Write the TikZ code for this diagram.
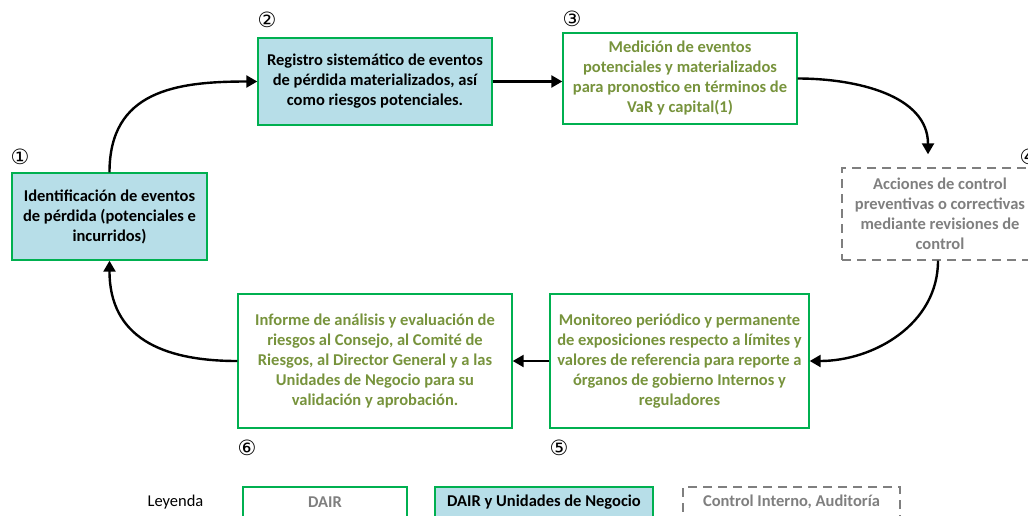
\documentclass[tikz,border=0pt]{standalone}
\usepackage{fontspec}
\setmainfont{Carlito}
\newfontfamily\circfont{DejaVu Sans}
\usetikzlibrary{arrows,arrows.meta}
\definecolor{verde}{HTML}{00B050}
\definecolor{azul}{HTML}{B7DEE8}
\definecolor{oliva}{HTML}{77933C}
\definecolor{gris}{HTML}{7F7F7F}

\begin{document}
\begin{tikzpicture}[x=1pt,y=-1pt,
  caja/.style={draw=verde,line width=1.4pt,align=center,inner sep=0pt,
    font=\bfseries\fontsize{16.5}{20}\selectfont},
  dair/.style={caja,text=oliva},
  unid/.style={caja,fill=azul},
  ctrl/.style={caja,draw=gris,dash pattern=on 9pt off 6pt,text=gris},
  num/.style={font=\circfont\fontsize{21}{21}\selectfont},
  flecha/.style={-{Triangle[length=11pt,width=12pt]},line width=2.4pt}]
\useasboundingbox (0,0) rectangle (1028,515);
% pasos del proceso
\node[unid,minimum width=195pt,minimum height=87pt](Id)at(109.5,216.5)
  {Identificación de eventos\\de pérdida (potenciales e\\incurridos)};
\node[unid,minimum width=234pt,minimum height=87pt](Reg)at(375,81.5)
  {Registro sistemático de eventos\\de pérdida materializados, así\\como riesgos potenciales.};
\node[dair,minimum width=234pt,minimum height=91pt](Med)at(680,78.5)
  {Medición de eventos\\potenciales y materializados\\para pronostico en términos de\\VaR y capital(1)};
\node[ctrl,minimum width=196pt,minimum height=92pt](Acc)at(940,214)
  {Acciones de control\\preventivas o correctivas\\mediante revisiones de\\control};
\node[dair,minimum width=259pt,minimum height=134pt](Mon)at(679.5,361)
  {Monitoreo periódico y permanente\\de exposiciones respecto a límites y\\valores de referencia para reporte a\\órganos de gobierno Internos y\\reguladores};
\node[dair,minimum width=274pt,minimum height=134pt](Inf)at(375,361)
  {Informe de análisis y evaluación de\\riesgos al Consejo, al Comité de\\Riesgos, al Director General y a las\\Unidades de Negocio para su\\validación y aprobación.};
% numeros
\node[num](n1)at(20,157){①};
\node[num](n2)at(267,20){②};
\node[num](n3)at(572,19){③};
\node[num](n4)at(1029,157){④};
\node[num](n5)at(559,448){⑤};
\node[num](n6)at(247,448){⑥};
% flechas
\draw[flecha](Id.north)to[out=90,in=180,looseness=1.2](Reg.west);
\draw[flecha](Reg.east)--(Reg.east-|Med.west);
\draw[flecha](Med.east)to[out=0,in=90]([xshift=-12pt,yshift=13pt]Acc.north);
\draw[flecha]([xshift=-2pt]Acc.south)to[out=-90,in=0](Mon.east);
\draw[flecha](Mon.west)--(Inf.east);
\draw[flecha](Inf.west)to[out=180,in=-90,looseness=1.2](Id.south);
% leyenda
\node[font=\fontsize{16.5}{18}\selectfont](ley)at(175.5,502){Leyenda};
\node[caja,text=gris,minimum width=164pt,minimum height=30pt](l1)at(325,502){DAIR};
\node[unid,minimum width=218pt,minimum height=30pt](l2)at(544,502){DAIR y Unidades de Negocio};
\node[ctrl,minimum width=217pt,minimum height=30pt](l3)at(791.5,502){Control Interno, Auditoría};
\end{tikzpicture}
\end{document}
